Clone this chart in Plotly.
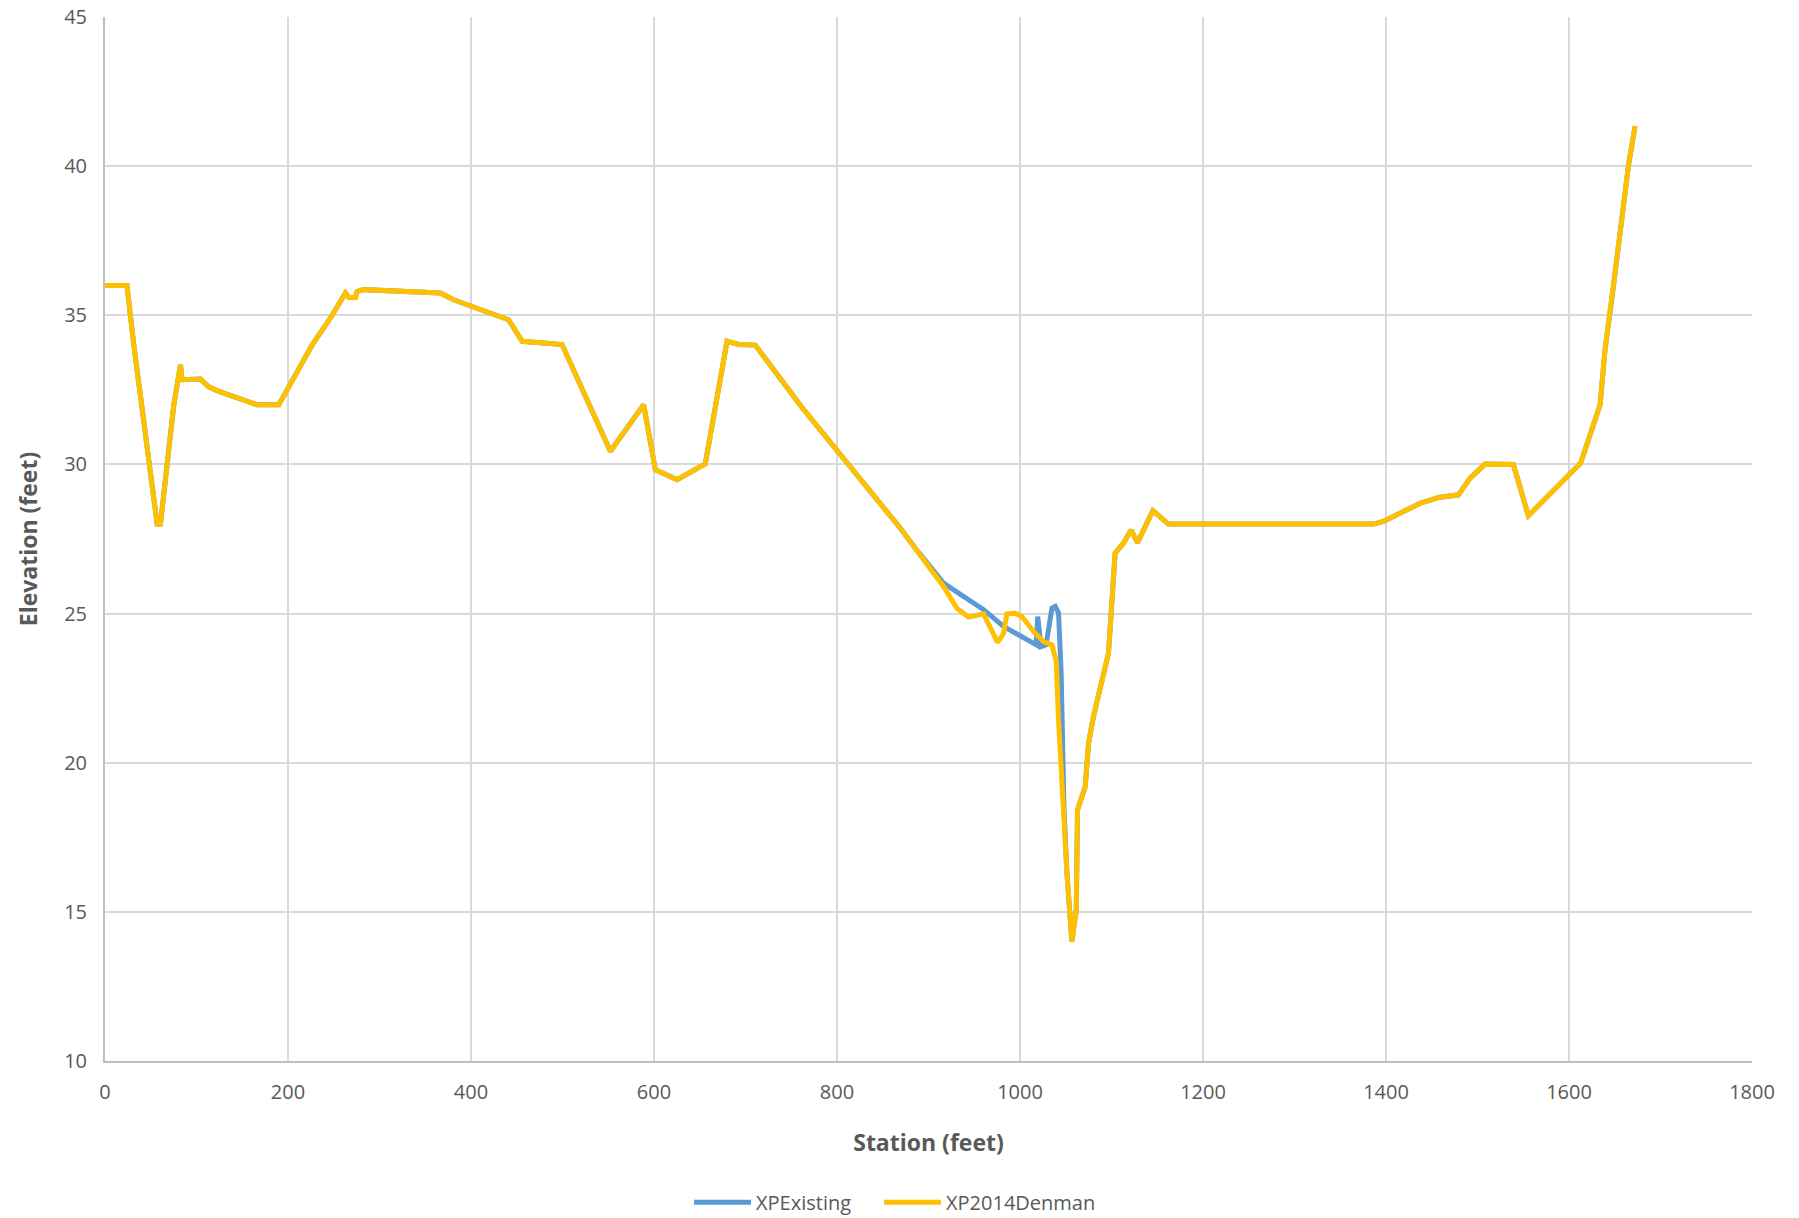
import plotly.graph_objects as go

# Cross-section XPExisting (station ft, elevation ft)
existing_station = [
    0, 24, 31.5, 57, 60.6, 68, 75.2, 82.5, 84.3, 104.3, 113.4, 124.4, 144.4, 166.3, 190,
    226.3, 246.4, 262.8, 266.4, 273.7, 275.5, 282.8, 366.6, 381, 441, 456, 499.5, 552.3,
    588.7, 601.5, 625.2, 656, 679.8, 692.5, 710.7, 762, 869, 885.4,
    916.4, 942, 960.2, 982, 1013, 1017.8, 1019.4, 1023, 1028.5, 1034.9, 1038.5, 1042.1,
    1045, 1048, 1051.3, 1056.7,
    1061.5, 1062.9, 1071.3, 1074.9, 1080.3, 1096.7, 1104, 1113, 1121.5, 1128.4, 1145.2,
    1162.3, 1386.3, 1397.2, 1437.3, 1457.3, 1479.1, 1491.9, 1508.3, 1539.2, 1555.6,
    1612.8, 1634, 1639.4, 1646.7, 1655.8, 1664.9, 1672.2,
]
existing_elev = [
    36, 36, 34.0, 28, 28, 30.05, 32.0, 33.34, 32.84, 32.86, 32.6, 32.45, 32.25, 32.0, 32.0,
    34.0, 34.91, 35.75, 35.6, 35.6, 35.8, 35.86, 35.75, 35.52, 34.85, 34.13, 34.02, 30.44,
    32.0, 29.82, 29.49, 30.02, 34.13, 34.02, 34.0, 31.9, 27.87, 27.2,
    26.02, 25.52, 25.13, 24.57, 24.01, 23.95, 24.9, 23.89, 23.95, 25.18, 25.24, 25.02,
    23.0, 18.5, 16.3, 14.0,
    15.06, 18.42, 19.2, 20.65, 21.55, 23.67, 27.03, 27.36, 27.8, 27.38, 28.45,
    28.0, 28.0, 28.09, 28.7, 28.89, 28.98, 29.54, 30.01, 30.0, 28.28,
    30.05, 32.0, 33.85, 35.52, 37.76, 40.0, 41.34,
]

# Cross-section XP2014Denman (station ft, elevation ft)
denman_station = [
    0, 24, 31.5, 57, 60.6, 68, 75.2, 82.5, 84.3, 104.3, 113.4, 124.4, 144.4, 166.3, 190,
    226.3, 246.4, 262.8, 266.4, 273.7, 275.5, 282.8, 366.6, 381, 441, 456, 499.5, 552.3,
    588.7, 601.5, 625.2, 656, 679.8, 692.5, 710.7, 762, 869, 885.4,
    916.4, 931, 943.8, 960.2, 967.5, 975.5, 982, 985.7, 994.8, 1002, 1014.8, 1025.7,
    1034.9, 1039.6, 1042.1, 1047.6, 1051.3, 1056.7,
    1061.5, 1062.9, 1071.3, 1074.9, 1080.3, 1096.7, 1104, 1113, 1121.5, 1128.4, 1145.2,
    1162.3, 1386.3, 1397.2, 1437.3, 1457.3, 1479.1, 1491.9, 1508.3, 1539.2, 1555.6,
    1612.8, 1634, 1639.4, 1646.7, 1655.8, 1664.9, 1672.2,
]
denman_elev = [
    36, 36, 34.0, 28, 28, 30.05, 32.0, 33.34, 32.84, 32.86, 32.6, 32.45, 32.25, 32.0, 32.0,
    34.0, 34.91, 35.75, 35.6, 35.6, 35.8, 35.86, 35.75, 35.52, 34.85, 34.13, 34.02, 30.44,
    32.0, 29.82, 29.49, 30.02, 34.13, 34.02, 34.0, 31.9, 27.87, 27.2,
    25.91, 25.18, 24.88, 24.99, 24.51, 24.03, 24.34, 24.99, 25.01, 24.9, 24.4, 24.06,
    23.95, 23.39, 21.43, 18.08, 16.3, 14.0,
    15.06, 18.42, 19.2, 20.65, 21.55, 23.67, 27.03, 27.36, 27.8, 27.38, 28.45,
    28.0, 28.0, 28.09, 28.7, 28.89, 28.98, 29.54, 30.01, 30.0, 28.28,
    30.05, 32.0, 33.85, 35.52, 37.76, 40.0, 41.34,
]

x_ticks = [0, 200, 400, 600, 800, 1000, 1200, 1400, 1600, 1800]
y_ticks = [10, 15, 20, 25, 30, 35, 40, 45]

TEXT = "#595959"
GRID = "#D9D9D9"
FONT = "Open Sans"

fig = go.Figure()
fig.add_trace(go.Scatter(
    x=existing_station, y=existing_elev, mode="lines", name="XPExisting",
    line=dict(color="#5B9BD5", width=5, shape="linear"), legend="legend",
))
fig.add_trace(go.Scatter(
    x=denman_station, y=denman_elev, mode="lines", name="XP2014Denman",
    line=dict(color="#FFC000", width=5, shape="linear"), legend="legend2",
))

legend_style = dict(
    orientation="h", xref="container", yref="container",
    xanchor="left", y=0.013, yanchor="middle",
    font=dict(family=FONT, color=TEXT, size=20),
    itemwidth=57, bgcolor="rgba(0,0,0,0)",
)

fig.update_layout(
    width=1799, height=1218,
    margin=dict(l=105, r=47, t=17, b=157),
    paper_bgcolor="white", plot_bgcolor="white",
    font=dict(family=FONT, color=TEXT, size=20),
    showlegend=True,
    legend=dict(legend_style, x=0.383),
    legend2=dict(legend_style, x=0.4886),
    xaxis=dict(
        range=[0, 1800], tickvals=x_ticks, ticktext=[str(v) for v in x_ticks],
        showgrid=True, gridcolor=GRID, gridwidth=1.5,
        showline=True, linecolor="#BFBFBF", linewidth=1.5,
        zeroline=False, ticks="", ticklabelstandoff=12, automargin=False,
        tickfont=dict(family=FONT, color=TEXT, size=20),
        title=dict(text="<b>Station (feet)</b>", standoff=31,
                   font=dict(family=FONT, color=TEXT, size=23)),
    ),
    yaxis=dict(
        range=[10, 45], tickvals=y_ticks, ticktext=[str(v) for v in y_ticks],
        showgrid=True, gridcolor=GRID, gridwidth=1.5,
        showline=True, linecolor="#BFBFBF", linewidth=2,
        zeroline=False, ticks="", ticklabelstandoff=12, automargin=False,
        tickfont=dict(family=FONT, color=TEXT, size=20),
        title=dict(text="<b>Elevation (feet)</b>", standoff=20,
                   font=dict(family=FONT, color=TEXT, size=23)),
    ),
)

fig.write_html("out.html")
